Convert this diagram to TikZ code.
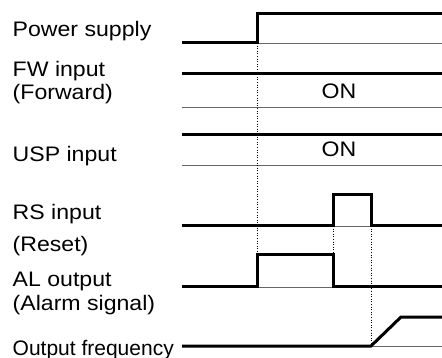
\documentclass[tikz,border=0pt]{standalone}
\usepackage{fontspec}
\setmainfont{Liberation Sans}
\newcommand{\sxtxt}[1]{\scalebox{1.1}[1]{#1}}
\begin{document}
\begin{tikzpicture}[x=1pt,y=-1pt,
  sig/.style={line width=3pt, line join=miter},
  base/.style={line width=0.9pt, black!60},
  guide/.style={line width=0.6pt, dotted},
  lbl/.style={anchor=base west, inner sep=0pt, font=\fontsize{21}{25}\selectfont},
  ontext/.style={anchor=base, inner sep=0pt, font=\fontsize{21}{25}\selectfont}]
\useasboundingbox (0,0) rectangle (442,358);
% labels
\node[lbl] (lps) at (12.5,37) {\sxtxt{Power supply}};
\node[lbl] (lfw) at (12.5,77) {\sxtxt{FW input}};
\node[lbl] (lfw2) at (12.5,100) {\sxtxt{(Forward)}};
\node[lbl] (lusp) at (12.5,162) {\sxtxt{USP input}};
\node[lbl] (lrs) at (12.5,220) {\sxtxt{RS input}};
\node[lbl] (lrs2) at (12.5,252) {\sxtxt{(Reset)}};
\node[lbl] (lal) at (12.5,287) {\sxtxt{AL output}};
\node[lbl] (lal2) at (12.5,310) {\sxtxt{(Alarm signal)}};
\node[lbl] (lof) at (12.5,355) {Output frequency};
\node[ontext] (onfw) at (339,98.5) {\sxtxt{ON}};
\node[ontext] (onusp) at (339,157) {\sxtxt{ON}};
% baselines
\draw[base] (258,43) -- (442,43);
\draw[base] (182,107) -- (442,107);
\draw[base] (182,165) -- (442,165);
\draw[base] (182,226) -- (442,226);
\draw[base] (182,287) -- (442,287);
\draw[base] (371,346) -- (442,346);
% guides
\coordinate (t1a) at (257.5,43); \coordinate (t1b) at (257.5,255);
\coordinate (t2a) at (333,226); \coordinate (t2b) at (333,255);
\coordinate (t3a) at (371,226); \coordinate (t3b) at (371,346);
\draw[guide] (t1a) -- (t1b);
\draw[guide] (t2a) -- (t2b);
\draw[guide] (t3a) -- (t3b);
% signals
\draw[sig] (182,43) -- (257.5,43) -- (257.5,14) -- (443,14);
\draw[sig] (182,74) -- (443,74);
\draw[sig] (182,135) -- (443,135);
\draw[sig] (182,226) -- (333,226) -- (333,195) -- (371,195) -- (371,226) -- (443,226);
\draw[sig] (182,287) -- (257.5,287) -- (257.5,255) -- (333,255) -- (333,287) -- (443,287);
\draw[sig] (182,346) -- (371,346) -- (401,317) -- (443,317);
\end{tikzpicture}
\end{document}
